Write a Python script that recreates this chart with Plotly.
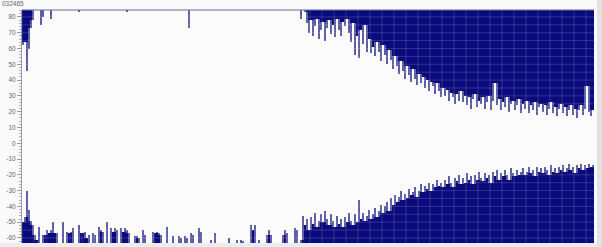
import plotly.graph_objects as go

# Axis limits of the display (value units)
Y_TOP = 84.4
Y_BOTTOM = -63.2

# Level reached by bars hanging from the top (None = no bar)
N = None
top_level = [
    62, 64, 46, 60, 73, 78, N, N, N, 75,
    80, N, N, N, 79, N, N, N, N, N,
    N, N, N, N, N, N, N, N, 83, N,
    N, N, N, N, N, N, N, N, N, N,
    N, N, N, N, N, N, N, N, N, N,
    N, N, 83, N, N, N, N, N, N, N,
    N, N, N, N, N, N, N, N, N, N,
    N, N, N, N, N, N, N, N, N, N,
    N, N, N, 73, N, N, N, N, N, N,
    N, N, N, N, N, N, N, N, N, N,
    N, N, N, N, N, N, N, N, N, N,
    N, N, N, N, N, N, N, N, N, N,
    N, N, N, N, N, N, N, N, N, N,
    N, N, N, N, N, N, N, N, N, 79,
    N, 83, 76, 70, 78, 68, 74, 79, 66, 72,
    77, 65, 73, 78, 69, 75, 67, 79, 72, 68,
    77, 74, 79, 70, 64, 76, 56, 68, 54, 72,
    63, 75, 58, 66, 57, 61, 55, 64, 58, 52,
    62, 56, 50, 59, 53, 47, 55, 49, 44, 52,
    46, 41, 49, 43, 39, 47, 41, 37, 44, 38,
    42, 35, 40, 33, 39, 36, 31, 38, 33, 29,
    35, 30, 34, 27, 32, 29, 25, 31, 27, 33,
    26, 30, 24, 29, 22, 28, 31, 23, 27, 25,
    29, 22, 26, 30, 21, 27, 38, 24, 28, 21,
    26, 23, 29, 20, 25, 27, 21, 24, 28, 19,
    25, 22, 27, 19, 24, 21, 26, 18, 23, 25,
    20, 24, 18, 22, 26, 19, 23, 17, 22, 25,
    19, 23, 17, 21, 24, 18, 22, 16, 21, 24,
    18, 22, 36, 20, 17, 21,
]

# Level reached by bars rising from the bottom (None = no bar)
bottom_level = [
    -50, -47, -30, -42, -49, -52, -58, -61, -53, N,
    -58, -58, -55, -57, -55, -50, -57, -57, N, N,
    -50, N, -56, -57, -56, -54, N, N, -52, -57,
    -57, -56, -60, -58, N, -57, -58, N, -53, -55,
    -56, N, -50, N, -54, -56, -54, -55, N, -54,
    -56, -54, -55, -57, N, N, -59, -59, -60, N,
    -55, -58, N, N, N, -56, -57, -56, -57, -58,
    N, N, -53, N, N, -59, N, N, -59, -60,
    N, -59, -60, N, -57, -58, N, N, -54, -56,
    N, N, N, N, -61, N, -57, N, N, N,
    N, N, N, -60, N, N, N, -61, N, -61,
    -62, N, N, N, -52, -55, -52, N, -61, N,
    N, N, -58, -55, -58, N, N, N, N, N,
    -58, -55, -57, N, N, N, -54, -55, N, -61,
    -46, -52, -48, -55, -47, -51, -44, -53, -49, -45,
    -50, -43, -48, -52, -45, -49, -53, -46, -51, -48,
    -53, -47, -50, -44, -49, -52, -45, -50, -36, -48,
    -44, -49, -46, -42, -48, -45, -41, -47, -43, -39,
    -44, -40, -37, -43, -35, -39, -33, -37, -34, -30,
    -36, -32, -35, -29, -33, -31, -28, -34, -30, -26,
    -31, -27, -29, -25, -30, -26, -28, -23, -27, -25,
    -28, -23, -26, -21, -25, -28, -22, -24, -20, -26,
    -22, -25, -19, -23, -21, -26, -20, -23, -18, -22,
    -24, -19, -22, -20, -25, -18, -21, -17, -23, -19,
    -21, -17, -20, -23, -16, -19, -21, -17, -20, -18,
    -16, -20, -18, -15, -19, -17, -21, -15, -18, -16,
    -19, -15, -17, -20, -14, -18, -16, -19, -15, -17,
    -14, -18, -16, -13, -17, -15, -19, -14, -16, -13,
    -17, -14, -16, -13, -15, -14,
]

y_tick_vals = [80, 70, 60, 50, 40, 30, 20, 10, 0, -10, -20, -30, -40, -50, -60]
y_tick_text = ["80", "70", "60", "50", "40", "30", "20", "10", "0",
               "-10", "-20", "-30", "-40", "-50", "-60"]
corner_label = "032465"

DARK = "#0a0a7c"
TIP = "#5e5ea6"
bins = list(range(len(top_level)))


def solid_part(levels, pick):
    """Part of each spike that is backed by both neighbours (drawn solid)."""
    out = []
    for i, v in enumerate(levels):
        nb = [levels[j] for j in (i - 1, i, i + 1) if 0 <= j < len(levels)]
        if v is None or any(n is None for n in nb):
            out.append(None)
        else:
            out.append(pick(nb))
    return out


top_solid = solid_part(top_level, max)        # shallower = higher value
bottom_solid = solid_part(bottom_level, min)  # shallower = lower value


def lengths(levels, base):
    return [(v - base) if v is not None else None for v in levels]


fig = go.Figure()
for levels, base, color, w in [
    (top_level, Y_TOP, TIP, 0.6), (top_solid, Y_TOP, DARK, 1.0),
    (bottom_level, Y_BOTTOM, TIP, 0.6), (bottom_solid, Y_BOTTOM, DARK, 1.0),
]:
    fig.add_trace(go.Bar(
        x=bins, base=base, y=lengths(levels, base), width=w,
        marker=dict(color=color, line=dict(width=0)),
        hoverinfo="skip",
    ))

# light grid drawn above the traces (shows only on the dark fill)
grid_color = "rgba(255,255,255,0.16)"
for gy in range(-60, 85, 5):
    fig.add_shape(type="line", xref="paper", yref="y", x0=0, x1=1, y0=gy, y1=gy,
                  line=dict(color=grid_color, width=1), layer="above")
for gx in range(0, len(bins), 6):
    fig.add_shape(type="line", xref="x", yref="paper", x0=gx - 0.5, x1=gx - 0.5,
                  y0=0, y1=1, line=dict(color=grid_color, width=1), layer="above")

# top border line
fig.add_shape(type="line", xref="paper", yref="paper", x0=0, x1=1, y0=1, y1=1,
              line=dict(color="#6a6a98", width=1), layer="above")
# bottom grey band and right strip
fig.add_shape(type="rect", xref="paper", yref="paper", x0=-0.05, x1=1.02,
              y0=-0.03, y1=0, fillcolor="#ececec", line=dict(width=0), layer="above")
fig.add_shape(type="rect", xref="paper", yref="paper", x0=1.0052, x1=1.02,
              y0=-0.05, y1=1.05, fillcolor="#e2e2e2", line=dict(width=0), layer="above")

fig.add_annotation(text=corner_label, xref="paper", yref="paper",
                   x=-0.0385, y=1.03, xanchor="left", yanchor="middle",
                   showarrow=False, font=dict(size=6.5, color="#666666",
                                             family="Liberation Sans"))

fig.update_layout(
    width=602, height=247,
    margin=dict(l=22, r=8, t=10, b=4),
    paper_bgcolor="#fafafa",
    plot_bgcolor="#fbfbfb",
    bargap=0,
    barmode="overlay",
    showlegend=False,
    font=dict(family="Liberation Sans", size=7, color="#555555"),
    xaxis=dict(range=[-0.5, len(bins) - 0.5], showticklabels=False, ticks="",
               showgrid=False, zeroline=False, showline=False, fixedrange=True),
    yaxis=dict(range=[Y_BOTTOM, Y_TOP], tickvals=y_tick_vals, ticktext=y_tick_text,
               ticks="outside", ticklen=4, tickcolor="#9a9aaa", tickwidth=1,
               showgrid=False, zeroline=False, showline=True, linecolor="#9a9aaa",
               linewidth=1, tickfont=dict(size=6.5, color="#666666"),
               minor=dict(dtick=2, ticks="outside", ticklen=2, tickcolor="#b0b0c0"),
               fixedrange=True),
)

fig.write_html("out.html")
